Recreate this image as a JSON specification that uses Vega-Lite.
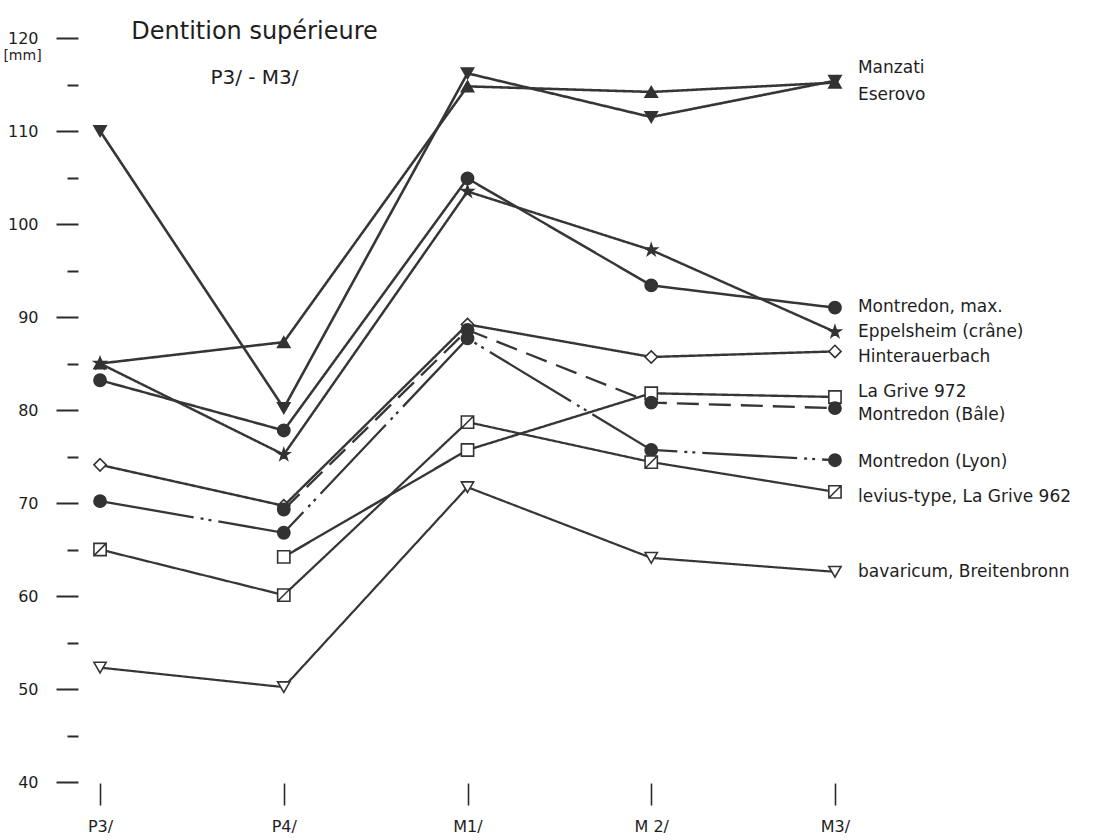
{
  "$schema": "https://vega.github.io/schema/vega-lite/v6.json",
  "width": 779,
  "height": 744,
  "autosize": {"type": "none"},
  "padding": {"left": 78, "top": 38, "right": 242, "bottom": 58},
  "background": "white",
  "config": {
    "view": {"stroke": null},
    "font": "DejaVu Sans",
    "axis": {"grid": false, "domain": false}
  },
  "title": {
    "text": "Dentition supérieure",
    "subtitle": "P3/ - M3/",
    "anchor": "middle",
    "frame": "group",
    "dx": -213,
    "offset": -58,
    "fontSize": 24,
    "fontWeight": "normal",
    "subtitleFontSize": 20,
    "subtitlePadding": 24,
    "color": "#1e1e1e",
    "subtitleColor": "#1e1e1e",
    "font": "DejaVu Sans",
    "subtitleFont": "DejaVu Sans"
  },
  "datasets": {
    "points": [
      {"series": "Eserovo", "tooth": "P3/", "value": 110.0},
      {"series": "Eserovo", "tooth": "P4/", "value": 80.2},
      {"series": "Eserovo", "tooth": "M1/", "value": 116.2},
      {"series": "Eserovo", "tooth": "M 2/", "value": 111.5},
      {"series": "Eserovo", "tooth": "M3/", "value": 115.4},
      {"series": "Manzati", "tooth": "P3/", "value": 85.0},
      {"series": "Manzati", "tooth": "P4/", "value": 87.3},
      {"series": "Manzati", "tooth": "M1/", "value": 114.8},
      {"series": "Manzati", "tooth": "M 2/", "value": 114.2},
      {"series": "Manzati", "tooth": "M3/", "value": 115.2},
      {"series": "Montredon, max.", "tooth": "P3/", "value": 83.2},
      {"series": "Montredon, max.", "tooth": "P4/", "value": 77.8},
      {"series": "Montredon, max.", "tooth": "M1/", "value": 104.9},
      {"series": "Montredon, max.", "tooth": "M 2/", "value": 93.4},
      {"series": "Montredon, max.", "tooth": "M3/", "value": 91.0},
      {"series": "Eppelsheim (crâne)", "tooth": "P3/", "value": 85.0},
      {"series": "Eppelsheim (crâne)", "tooth": "P4/", "value": 75.2},
      {"series": "Eppelsheim (crâne)", "tooth": "M1/", "value": 103.5},
      {"series": "Eppelsheim (crâne)", "tooth": "M 2/", "value": 97.2},
      {"series": "Eppelsheim (crâne)", "tooth": "M3/", "value": 88.4},
      {"series": "Hinterauerbach", "tooth": "P3/", "value": 74.1},
      {"series": "Hinterauerbach", "tooth": "P4/", "value": 69.7},
      {"series": "Hinterauerbach", "tooth": "M1/", "value": 89.2},
      {"series": "Hinterauerbach", "tooth": "M 2/", "value": 85.7},
      {"series": "Hinterauerbach", "tooth": "M3/", "value": 86.3},
      {"series": "La Grive 972", "tooth": "P4/", "value": 64.2},
      {"series": "La Grive 972", "tooth": "M1/", "value": 75.7},
      {"series": "La Grive 972", "tooth": "M 2/", "value": 81.8},
      {"series": "La Grive 972", "tooth": "M3/", "value": 81.4},
      {"series": "Montredon (Bâle)", "tooth": "P4/", "value": 69.3},
      {"series": "Montredon (Bâle)", "tooth": "M1/", "value": 88.6},
      {"series": "Montredon (Bâle)", "tooth": "M 2/", "value": 80.8},
      {"series": "Montredon (Bâle)", "tooth": "M3/", "value": 80.2},
      {"series": "Montredon (Lyon)", "tooth": "P3/", "value": 70.2},
      {"series": "Montredon (Lyon)", "tooth": "P4/", "value": 66.8},
      {"series": "Montredon (Lyon)", "tooth": "M1/", "value": 87.7},
      {"series": "Montredon (Lyon)", "tooth": "M 2/", "value": 75.7},
      {"series": "Montredon (Lyon)", "tooth": "M3/", "value": 74.6},
      {"series": "levius-type, La Grive 962", "tooth": "P3/", "value": 65.0},
      {"series": "levius-type, La Grive 962", "tooth": "P4/", "value": 60.1},
      {"series": "levius-type, La Grive 962", "tooth": "M1/", "value": 78.7},
      {"series": "levius-type, La Grive 962", "tooth": "M 2/", "value": 74.4},
      {"series": "levius-type, La Grive 962", "tooth": "M3/", "value": 71.2},
      {"series": "bavaricum, Breitenbronn", "tooth": "P3/", "value": 52.3},
      {"series": "bavaricum, Breitenbronn", "tooth": "P4/", "value": 50.2},
      {"series": "bavaricum, Breitenbronn", "tooth": "M1/", "value": 71.7},
      {"series": "bavaricum, Breitenbronn", "tooth": "M 2/", "value": 64.1},
      {"series": "bavaricum, Breitenbronn", "tooth": "M3/", "value": 62.6}
    ],
    "labels": [
      {"series": "Manzati", "labelValue": 116.8},
      {"series": "Eserovo", "labelValue": 113.9},
      {"series": "Montredon, max.", "labelValue": 91.1},
      {"series": "Eppelsheim (crâne)", "labelValue": 88.4},
      {"series": "Hinterauerbach", "labelValue": 85.7},
      {"series": "La Grive 972", "labelValue": 81.9},
      {"series": "Montredon (Bâle)", "labelValue": 79.5},
      {"series": "Montredon (Lyon)", "labelValue": 74.4},
      {"series": "levius-type, La Grive 962", "labelValue": 70.6},
      {"series": "bavaricum, Breitenbronn", "labelValue": 62.6}
    ]
  },
  "layer": [
    {
      "data": {"name": "points"},
      "mark": {"type": "line", "color": "#363636", "strokeCap": "butt"},
      "encoding": {
        "x": {
          "field": "tooth",
          "type": "ordinal",
          "sort": ["P3/", "P4/", "M1/", "M 2/", "M3/"],
          "scale": {"type": "point", "padding": 0.12},
          "axis": {
            "title": null,
            "labelAngle": 0,
            "tickSize": 22,
            "tickWidth": 1.6,
            "tickColor": "#2a2a2a",
            "offset": 1,
            "labelPadding": 13,
            "labelFontSize": 16,
            "labelColor": "#1e1e1e",
            "domain": false
          }
        },
        "y": {
          "field": "value",
          "type": "quantitative",
          "scale": {"domain": [40, 120], "nice": false, "zero": false},
          "axis": {
            "values": [40, 45, 50, 55, 60, 65, 70, 75, 80, 85, 90, 95, 100, 105, 110, 115, 120],
            "labelExpr": "datum.value % 10 == 0 ? datum.label : ''",
            "tickSize": {"condition": {"test": "datum.value % 10 != 0", "value": 11}, "value": 22},
            "tickWidth": 2,
            "tickColor": "#2a2a2a",
            "labelPadding": 18,
            "labelFontSize": 16,
            "labelColor": "#1e1e1e",
            "title": "[mm]",
            "titleAngle": 0,
            "titleX": -56,
            "titleY": 17,
            "titleAlign": "center",
            "titleBaseline": "middle",
            "titleFontSize": 14,
            "titleFontWeight": "normal",
            "titleColor": "#1e1e1e",
            "domain": false
          }
        },
        "detail": {"field": "series", "type": "nominal"},
        "strokeDash": {
          "field": "series",
          "type": "nominal",
          "scale": {
            "domain": ["Eserovo", "Manzati", "Montredon, max.", "Eppelsheim (crâne)", "Hinterauerbach", "La Grive 972", "Montredon (Bâle)", "Montredon (Lyon)", "levius-type, La Grive 962", "bavaricum, Breitenbronn"],
            "range": [[1, 0], [1, 0], [1, 0], [1, 0], [1, 0], [1, 0], [22, 10], [95, 7, 3, 5, 3, 7], [1, 0], [1, 0]]
          },
          "legend": null
        },
        "strokeWidth": {
          "field": "series",
          "type": "nominal",
          "scale": {
            "domain": ["Eserovo", "Manzati", "Montredon, max.", "Eppelsheim (crâne)", "Hinterauerbach", "La Grive 972", "Montredon (Bâle)", "Montredon (Lyon)", "levius-type, La Grive 962", "bavaricum, Breitenbronn"],
            "range": [2.6, 2.2, 3.4, 1.6, 1.5, 1.5, 2.6, 3.2, 1.5, 1.3]
          },
          "legend": null
        }
      }
    },
    {
      "data": {"name": "points"},
      "mark": {"type": "point", "filled": true, "size": 150, "stroke": "#333333", "strokeWidth": 1.6, "opacity": 1},
      "encoding": {
        "x": {"field": "tooth", "type": "ordinal", "sort": ["P3/", "P4/", "M1/", "M 2/", "M3/"]},
        "y": {"field": "value", "type": "quantitative"},
        "shape": {
          "field": "series",
          "type": "nominal",
          "scale": {
            "domain": ["Eserovo", "Manzati", "Montredon, max.", "Eppelsheim (crâne)", "Hinterauerbach", "La Grive 972", "Montredon (Bâle)", "Montredon (Lyon)", "levius-type, La Grive 962", "bavaricum, Breitenbronn"],
            "range": ["triangle-down", "triangle-up", "circle", "M0,-1L0.2245,-0.309L0.951,-0.309L0.363,0.118L0.588,0.809L0,0.382L-0.588,0.809L-0.363,0.118L-0.951,-0.309L-0.2245,-0.309Z", "M0,-1L1,0L0,1L-1,0Z", "square", "circle", "circle", "M-1,-1H1V1H-1Z M-1,1L1,-1", "triangle-down"]
          },
          "legend": null
        },
        "fill": {
          "field": "series",
          "type": "nominal",
          "scale": {
            "domain": ["Eserovo", "Manzati", "Montredon, max.", "Eppelsheim (crâne)", "Hinterauerbach", "La Grive 972", "Montredon (Bâle)", "Montredon (Lyon)", "levius-type, La Grive 962", "bavaricum, Breitenbronn"],
            "range": ["#333333", "#333333", "#333333", "#333333", "#ffffff", "#ffffff", "#333333", "#333333", "#ffffff", "#ffffff"]
          },
          "legend": null
        }
      }
    },
    {
      "data": {"name": "labels"},
      "mark": {"type": "text", "align": "left", "baseline": "middle", "dx": 23, "fontSize": 17, "color": "#1e1e1e"},
      "encoding": {
        "x": {"datum": "M3/"},
        "y": {"field": "labelValue", "type": "quantitative"},
        "text": {"field": "series", "type": "nominal"}
      }
    }
  ]
}
